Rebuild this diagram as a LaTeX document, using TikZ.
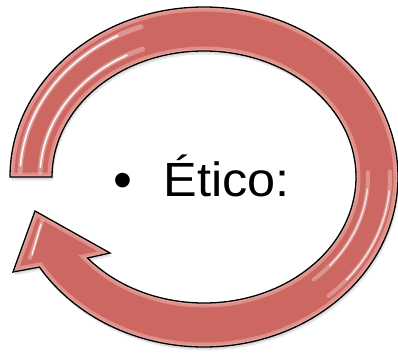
\documentclass[tikz,border=0pt]{standalone}
\usepackage{fontspec}
\setmainfont{Liberation Sans}
\definecolor{arrowred}{RGB}{204,103,97}
\definecolor{rimpink}{RGB}{238,176,170}
\newcommand\arrowoutline{(10,177) arc[start angle=180,end angle=-148,x radius=194,y radius=170] -- (13,82) -- (35,143) -- (110,101) -- (87.56,96.01) arc[start angle=-140,end angle=180,x radius=152,y radius=126] -- cycle}
\begin{document}
\begin{tikzpicture}[x=1pt,y=1pt,
  shine/.style={white,line cap=round},
  bigtext/.style={anchor=base west,inner sep=0pt}]
\useasboundingbox (0,0) rectangle (398,354);
% soft shadow
\fill[black,opacity=0.08,shift={(1.5,-3.5)}] \arrowoutline;
\fill[black,opacity=0.08,shift={(0.8,-2)}] \arrowoutline;
% body
\fill[arrowred] \arrowoutline;
\begin{scope}
  \clip \arrowoutline;
  \draw[rimpink,line width=9pt,opacity=0.55] \arrowoutline;
  \draw[rimpink,line width=4pt,opacity=0.6] \arrowoutline;
  % highlights upper left
  \draw[shine,line width=5pt,opacity=0.3] (204,177) ++(178:164 and 138) arc[start angle=178,end angle=112,x radius=164,y radius=138];
  \draw[shine,line width=1.8pt,opacity=0.9] (204,177) ++(176:164 and 138) arc[start angle=176,end angle=118,x radius=164,y radius=138];
  \draw[shine,line width=5pt,opacity=0.3] (204,177) ++(178:184 and 160) arc[start angle=178,end angle=110,x radius=184,y radius=160];
  \draw[shine,line width=1.8pt,opacity=0.9] (204,177) ++(176:184 and 160) arc[start angle=176,end angle=118,x radius=184,y radius=160];
  % highlights right side
  \draw[shine,line width=4pt,opacity=0.3] (204,177) ++(2:164 and 138) arc[start angle=2,end angle=-48,x radius=164,y radius=138];
  \draw[shine,line width=1.4pt,opacity=0.75] (204,177) ++(-5:164 and 138) arc[start angle=-5,end angle=-40,x radius=164,y radius=138];
  \draw[shine,line width=4pt,opacity=0.3] (204,177) ++(2:186 and 160) arc[start angle=2,end angle=-48,x radius=186,y radius=160];
  \draw[shine,line width=1.4pt,opacity=0.75] (204,177) ++(-5:186 and 160) arc[start angle=-5,end angle=-40,x radius=186,y radius=160];
  % arrowhead highlight
  \draw[shine,line width=4pt,opacity=0.3] (42,133) -- (30,96);
  \draw[shine,line width=1.5pt,opacity=0.85] (41,130) -- (32,99);
\end{scope}
\draw[black,line width=1.3pt,line join=miter] \arrowoutline;
% text
\node[bigtext,font=\fontsize{54}{58}\selectfont] (bullet) at (113,156) {\textbullet};
\node[bigtext,font=\fontsize{48}{52}\selectfont,xscale=1.05] (etico) at (163.5,158) {Ético:};
\end{tikzpicture}
\end{document}
